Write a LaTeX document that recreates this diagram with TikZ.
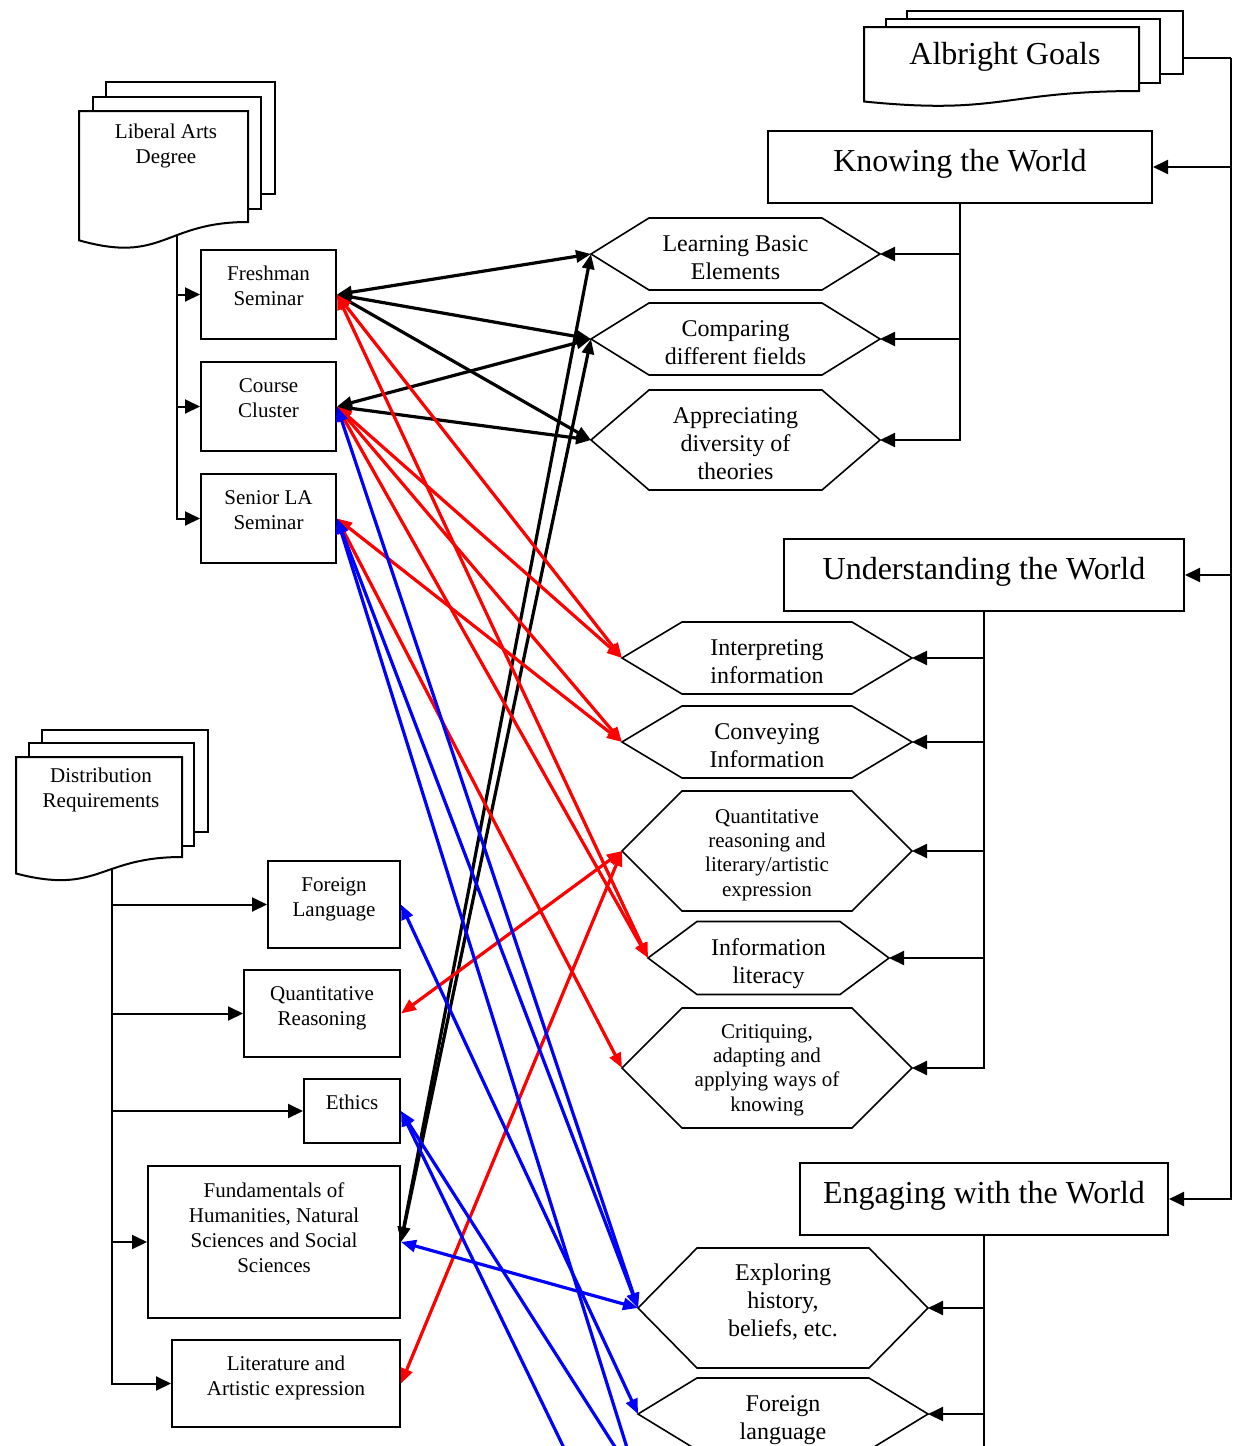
\documentclass[tikz,border=0pt]{standalone}
\usepackage{fontspec}
\setmainfont{Liberation Serif}
\usetikzlibrary{arrows.meta}

\tikzset{
  sheet/.style={draw, line width=1pt, fill=white},
  box/.style={draw, line width=1pt, fill=white, inner sep=0pt},
  sheettext/.style={anchor=north, inner sep=0pt, align=center, font=\fontsize{10.5}{12.5}\selectfont},
  boxtext/.style={sheettext, yshift=-8.5pt},
  headtext/.style={sheettext, yshift=-9.5pt, font=\fontsize{16}{19}\selectfont},
  hexnode/.style={inner sep=0pt, outer sep=0pt},
  hextext/.style={inner sep=0pt, align=center, yshift=-2pt, font=\fontsize{12}{14}\selectfont},
  hexsmall/.style={hextext, font=\fontsize{10.5}{12.2}\selectfont},
  hexline/.style={draw, line width=0.8pt},
  tree/.style={line width=1pt, -{Triangle[length=7.5pt,width=7pt]}},
  link/.style={line width=1.6pt, {Triangle[length=7.5pt,width=6pt]}-{Triangle[length=7.5pt,width=6pt]}}
}

% hexagon: [text style] name, cx, cy, half width, half height, chamfer, text
\newcommand{\hexa}[8][hextext]{%
  \node[hexnode, minimum width=#5pt, minimum height=#6pt, label={[#1]center:{#8}}] (#2) at (#3,#4) {};
  \draw[hexline] (#2.west) -- ++(#7,-#6) -- ++(2*#5-2*#7,0) -- (#2.east)
    -- ++(-#7,#6) -- ++(-2*#5+2*#7,0) -- cycle;
}

\begin{document}
\begin{tikzpicture}[x=0.5pt, y=-0.5pt]
  \useasboundingbox (0,0) rectangle (1241,1446);
  \clip (0,0) rectangle (1241,1446);

  % Albright goals
  \draw[sheet] (907,11) rectangle (1183,74);
  \draw[sheet] (886,19) rectangle (1160,83);
  \draw[sheet] (864,27) -- (1139,27) -- (1139,91) .. controls (1001.5,91) and (1001.5,115.4) .. (864,101.5) -- cycle;
  \node[sheettext, font=\fontsize{16}{19}\selectfont] (agl) at (1005,42) {Albright Goals};
  \coordinate (ag-r) at (1183,58);
  \coordinate (ag-bus) at (1231,58);

  \node[box, minimum width=192pt, minimum height=36pt, label={[headtext]north:Knowing the World}] (kw) at (960,167) {};
  \node[box, minimum width=200pt, minimum height=36pt, label={[headtext]north:Understanding the World}] (uw) at (984,575) {};
  \node[box, minimum width=184pt, minimum height=36pt, label={[headtext]north:Engaging with the World}] (ew) at (984,1199) {};

  \draw[line width=1pt] (ag-r) -- (ag-bus);
  \draw[tree] (ag-bus) |- (kw);
  \draw[tree] (ag-bus) |- (uw);
  \draw[tree] (ag-bus) |- (ew);

  % goal hexagons
  \hexa{lbe}{735.5}{254}{144.5}{36}{58}{Learning Basic\\Elements}
  \hexa{cdf}{735.5}{339}{144.5}{36}{58}{Comparing\\different fields}
  \hexa{adt}{735.5}{440}{144.5}{50}{58}{Appreciating\\diversity of\\theories}
  \hexa{iin}{767}{658}{145}{36}{60}{Interpreting\\information}
  \hexa{cin}{767}{742}{145}{36}{60}{Conveying\\Information}
  \hexa[hexsmall]{qra}{767}{851}{145}{60}{60}{Quantitative\\reasoning and\\literary/artistic\\expression}
  \hexa[hextext, yshift=-1pt]{ilt}{768.5}{958}{120.5}{36.5}{49}{Information\\literacy}
  \hexa[hexsmall, yshift=1pt]{cak}{767}{1068}{145}{60}{60}{Critiquing,\\adapting and\\applying ways of\\knowing}
  \hexa[hextext, yshift=5pt]{ehb}{783}{1308}{145}{60}{59}{Exploring\\history,\\beliefs, etc.}
  \hexa[hextext, yshift=-1pt]{flh}{783}{1414}{145}{36}{59}{Foreign\\language}
  \coordinate (eng3) at (638,1483);
  \coordinate (eng4) at (638,1601);
  \coordinate (ew-end) at (984,1446);

  \draw[tree] (kw.south) |- (lbe.east);
  \draw[tree] (kw.south) |- (cdf.east);
  \draw[tree] (kw.south) |- (adt.east);
  \draw[tree] (uw.south) |- (iin.east);
  \draw[tree] (uw.south) |- (cin.east);
  \draw[tree] (uw.south) |- (qra.east);
  \draw[tree] (uw.south) |- (ilt.east);
  \draw[tree] (uw.south) |- (cak.east);
  \draw[tree] (ew.south) |- (ehb.east);
  \draw[tree] (ew.south) |- (flh.east);
  \draw[line width=1pt] (ew.south) -- (ew-end);

  % liberal arts degree
  \draw[sheet] (106,82) rectangle (275,194);
  \draw[sheet] (93,97) rectangle (261,209);
  \draw[sheet] (79,111) -- (248,111) -- (248,222) .. controls (163.5,222) and (163.5,264.3) .. (79,240.3) -- cycle;
  \node[sheettext] (lad) at (166,124) {Liberal Arts\\Degree};
  \coordinate (lad-foot) at (177,236);

  \node[box, minimum width=67.5pt, minimum height=44.5pt, label={[boxtext]north:{Freshman\\Seminar}}] (fs) at (268.5,294.5) {};
  \node[box, minimum width=67.5pt, minimum height=44.5pt, label={[boxtext]north:{Course\\Cluster}}] (cc) at (268.5,406.5) {};
  \node[box, minimum width=67.5pt, minimum height=44.5pt, label={[boxtext]north:{Senior LA\\Seminar}}] (sla) at (268.5,518.5) {};

  \draw[tree] (lad-foot) |- (fs);
  \draw[tree] (lad-foot) |- (cc);
  \draw[tree] (lad-foot) |- (sla);

  % distribution requirements
  \draw[sheet] (42,730) rectangle (208,832);
  \draw[sheet] (29,743) rectangle (194,846);
  \draw[sheet] (16,757) -- (182,757) -- (182,857) .. controls (99,857) and (99,895.1) .. (16,873.5) -- cycle;
  \node[sheettext] (drq) at (101,768) {Distribution\\Requirements};
  \coordinate (drq-foot) at (112,869);

  \node[box, minimum width=66pt, minimum height=43.5pt, label={[boxtext]north:{Foreign\\Language}}] (flb) at (334,904.5) {};
  \node[box, minimum width=78pt, minimum height=43.5pt, label={[boxtext]north:{Quantitative\\Reasoning}}] (qrb) at (322,1013.5) {};
  \node[box, minimum width=48pt, minimum height=32pt, label={[boxtext]north:Ethics}] (eth) at (352,1111) {};
  \node[box, minimum width=126pt, minimum height=76pt, label={[boxtext]north:{Fundamentals of\\Humanities, Natural\\Sciences and Social\\Sciences}}] (fund) at (274,1242) {};
  \node[box, minimum width=114pt, minimum height=43.5pt, label={[boxtext]north:{Literature and\\Artistic expression}}] (lit) at (286,1383.5) {};

  \draw[tree] (drq-foot) |- (flb);
  \draw[tree] (drq-foot) |- (qrb);
  \draw[tree] (drq-foot) |- (eth);
  \draw[tree] (drq-foot) |- (fund);
  \draw[tree] (drq-foot) |- (lit);

  % knowing links
  \draw[link] (fs.east) -- (lbe.west);
  \draw[link] (fs.east) -- (cdf.west);
  \draw[link] (fs.east) -- (adt.west);
  \draw[link] (cc.east) -- (cdf.west);
  \draw[link] (cc.east) -- (adt.west);
  \draw[link] (fund.east) -- (lbe.west);
  \draw[link] (fund.east) -- (cdf.west);

  % understanding links
  \draw[link, red] (fs.east) -- (iin.west);
  \draw[link, red] (fs.east) -- (ilt.west);
  \draw[link, red] (cc.east) -- (iin.west);
  \draw[link, red] (cc.east) -- (cin.west);
  \draw[link, red] (cc.east) -- (ilt.west);
  \draw[link, red] (sla.east) -- (cin.west);
  \draw[link, red] (sla.east) -- (cak.west);
  \draw[link, red] (qrb.east) -- (qra.west);
  \draw[link, red] (lit.east) -- (qra.west);

  % engaging links
  \draw[link, blue] (cc.east) -- (ehb.west);
  \draw[link, blue] (sla.east) -- (ehb.west);
  \draw[link, blue] (sla.east) -- (eng3);
  \draw[link, blue] (flb.east) -- (flh.west);
  \draw[link, blue] (eth.east) -- (eng3);
  \draw[link, blue] (eth.east) -- (eng4);
  \draw[link, blue] (fund.east) -- (ehb.west);
\end{tikzpicture}
\end{document}
